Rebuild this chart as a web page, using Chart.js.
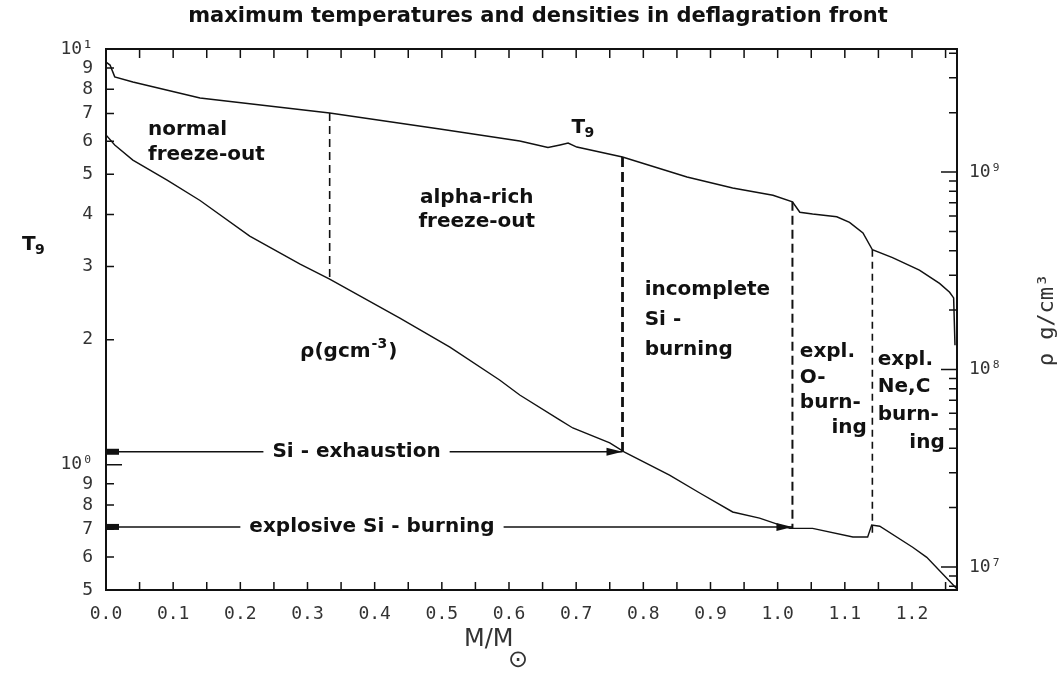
<!DOCTYPE html>
<html>
<head>
<meta charset="utf-8">
<script src="https://cdn.jsdelivr.net/npm/chart.js@4.4.0/dist/chart.umd.min.js"></script>
<style>
  html, body { margin: 0; padding: 0; background: #fff; }
</style>
</head>
<body>
<canvas id="chart" width="1064" height="677"></canvas>
<script>
// T9 along the deflagration front (left axis)
const massT = [0.0, 0.006, 0.013, 0.040, 0.140, 0.333, 0.497, 0.616, 0.658, 0.676, 0.688, 0.701, 0.769,
  0.865, 0.933, 0.993, 1.022, 1.033, 1.052, 1.088, 1.107, 1.127, 1.141, 1.171, 1.211, 1.241, 1.256, 1.262, 1.264];
const tempT9 = [9.30, 9.15, 8.57, 8.33, 7.62, 7.02, 6.42, 6.01, 5.80, 5.88, 5.94, 5.81, 5.50,
  4.92, 4.63, 4.45, 4.29, 4.05, 4.01, 3.95, 3.83, 3.61, 3.29, 3.15, 2.94, 2.73, 2.60, 2.52, 1.94];

// density in g/cm^3 (right axis)
const massRho = [0.0, 0.013, 0.040, 0.091, 0.140, 0.214, 0.289, 0.333, 0.4375, 0.512, 0.586, 0.616, 0.676,
  0.695, 0.750, 0.772, 0.839, 0.884, 0.933, 0.973, 1.018, 1.052, 1.112, 1.134, 1.140, 1.152, 1.201, 1.222, 1.266];
const density = [1.54e9, 1.37e9, 1.15e9, 9.1e8, 7.18e8, 4.74e8, 3.42e8, 2.87e8, 1.82e8, 1.30e8, 8.85e7, 7.43e7, 5.55e7,
  5.06e7, 4.25e7, 3.82e7, 2.92e7, 2.37e7, 1.90e7, 1.77e7, 1.57e7, 1.57e7, 1.42e7, 1.42e7, 1.63e7, 1.61e7, 1.26e7, 1.12e7, 7.8e6];

// dashed region boundaries (M, T9 at top, T9 at bottom)
const boundMass = [0.333, 0.769, 1.022, 1.141];
const boundTop = [7.02, 5.50, 4.29, 3.29];
const boundBottom = [2.80, 1.075, 0.705, 0.670];

// horizontal arrows
const arrowLevel = [1.075, 0.709];
const arrowEnd = [0.769, 1.022];
const arrowText = ['Si - exhaustion', 'explosive Si - burning'];
const arrowTextAt = [0.373, 0.396];

// tick values / labels
const xTickValues = [0, 0.05, 0.1, 0.15, 0.2, 0.25, 0.3, 0.35, 0.4, 0.45, 0.5, 0.55, 0.6, 0.65, 0.7, 0.75,
  0.8, 0.85, 0.9, 0.95, 1.0, 1.05, 1.1, 1.15, 1.2, 1.25];
const xTickLabels = ['0.0', '', '0.1', '', '0.2', '', '0.3', '', '0.4', '', '0.5', '', '0.6', '', '0.7', '',
  '0.8', '', '0.9', '', '1.0', '', '1.1', '', '1.2', ''];
const yTickValues = [0.5, 0.6, 0.7, 0.8, 0.9, 1, 2, 3, 4, 5, 6, 7, 8, 9, 10];
const yTickLabels = ['5', '6', '7', '8', '9', '10\u2070', '2', '3', '4', '5', '6', '7', '8', '9', '10\u00b9'];
const rhoTickValues = [8e6, 9e6, 1e7, 2e7, 3e7, 4e7, 5e7, 6e7, 7e7, 8e7, 9e7, 1e8, 2e8, 3e8, 4e8, 5e8, 6e8,
  7e8, 8e8, 9e8, 1e9, 2e9, 3e9, 4e9];
const rhoTickLabels = {1e7: '10\u2077', 1e8: '10\u2078', 1e9: '10\u2079'};

// text written inside the plot: [text, M, T9, align]
const notes = [
  ['normal', 0.0625, 6.39, 'left'],
  ['freeze-out', 0.0625, 5.56, 'left'],
  ['alpha-rich', 0.552, 4.38, 'center'],
  ['freeze-out', 0.552, 3.84, 'center'],
  ['incomplete', 0.802, 2.63, 'left'],
  ['Si -', 0.802, 2.23, 'left'],
  ['burning', 0.802, 1.89, 'left'],
  ['expl.', 1.033, 1.87, 'left'],
  ['O-', 1.033, 1.62, 'left'],
  ['burn-', 1.033, 1.41, 'left'],
  ['ing', 1.080, 1.23, 'left'],
  ['expl.', 1.149, 1.79, 'left'],
  ['Ne,C', 1.149, 1.54, 'left'],
  ['burn-', 1.149, 1.32, 'left'],
  ['ing', 1.196, 1.13, 'left']
];

const NOTE_FONT = 'bold 20px "DejaVu Sans"';
const SUB_FONT = 'bold 14px "DejaVu Sans"';
const tickFont = {family: 'DejaVu Sans Mono', size: 18};

const toXY = (xs, ys) => xs.map((x, i) => ({x: x, y: ys[i]}));

const datasets = [
  {data: toXY(massT, tempT9), yAxisID: 'y', borderColor: '#111', borderWidth: 1.5, pointRadius: 0, tension: 0},
  {data: toXY(massRho, density), yAxisID: 'y2', borderColor: '#111', borderWidth: 1.4, pointRadius: 0, tension: 0}
];
const boundStyle = [[1.6, [8, 5]], [2.8, [10, 5]], [2.0, [9, 5]], [1.6, [7, 5]]];
boundMass.forEach((m, i) => {
  datasets.push({
    data: [{x: m, y: boundTop[i]}, {x: m, y: boundBottom[i]}],
    yAxisID: 'y', borderColor: '#111', borderWidth: boundStyle[i][0], borderDash: boundStyle[i][1], pointRadius: 0
  });
});
arrowLevel.forEach((lv, i) => {
  datasets.push({
    data: [{x: 0, y: lv}, {x: arrowEnd[i], y: lv}],
    yAxisID: 'y', borderColor: '#111', borderWidth: 1.5, pointRadius: 0
  });
});

const decor = {
  id: 'decor',
  afterDatasetsDraw(chart) {
    const {ctx, chartArea: a, scales} = chart;
    const sx = scales.x, sy = scales.y, sr = scales.y2;
    ctx.save();
    ctx.strokeStyle = '#111';
    ctx.fillStyle = '#111';
    ctx.lineWidth = 1.5;
    // inward ticks
    ctx.beginPath();
    sx.ticks.forEach(t => {
      const px = sx.getPixelForValue(t.value);
      ctx.moveTo(px, a.bottom); ctx.lineTo(px, a.bottom - 8);
      ctx.moveTo(px, a.top); ctx.lineTo(px, a.top + 9);
    });
    sy.ticks.forEach(t => {
      const py = sy.getPixelForValue(t.value);
      const len = (t.value === 1 || t.value === 10) ? 16 : 8;
      ctx.moveTo(a.left, py); ctx.lineTo(a.left + len, py);
    });
    sr.ticks.forEach(t => {
      const py = sr.getPixelForValue(t.value);
      const len = rhoTickLabels[t.value] ? 16 : 8;
      ctx.moveTo(a.right, py); ctx.lineTo(a.right - len, py);
    });
    ctx.stroke();
    // frame
    ctx.lineWidth = 2;
    ctx.strokeRect(a.left, a.top, a.right - a.left, a.bottom - a.top);

    // arrow heads and texts
    ctx.font = NOTE_FONT;
    ctx.textBaseline = 'middle';
    arrowLevel.forEach((lv, i) => {
      const py = sy.getPixelForValue(lv);
      const x0 = sx.getPixelForValue(0);
      const x1 = sx.getPixelForValue(arrowEnd[i]);
      ctx.fillRect(x0, py - 3, 13, 6);
      ctx.beginPath();
      ctx.moveTo(x1, py); ctx.lineTo(x1 - 16, py - 4); ctx.lineTo(x1 - 16, py + 4); ctx.closePath();
      ctx.fill();
      const tx = sx.getPixelForValue(arrowTextAt[i]);
      const w = ctx.measureText(arrowText[i]).width;
      ctx.fillStyle = '#fff';
      ctx.fillRect(tx - w / 2 - 9, py - 12, w + 18, 24);
      ctx.fillStyle = '#111';
      ctx.textAlign = 'center';
      ctx.fillText(arrowText[i], tx, py);
    });

    // notes
    notes.forEach(n => {
      ctx.textAlign = n[3];
      ctx.fillText(n[0], sx.getPixelForValue(n[1]), sy.getPixelForValue(n[2]));
    });
    // T9 label on curve
    ctx.textAlign = 'left';
    let px = sx.getPixelForValue(0.693), py = sy.getPixelForValue(6.46);
    ctx.fillText('T', px, py);
    ctx.font = SUB_FONT;
    ctx.fillText('9', px + 13, py + 5);
    // rho label
    ctx.font = NOTE_FONT;
    px = sx.getPixelForValue(0.289); py = sy.getPixelForValue(1.87);
    ctx.fillText('\u03c1(gcm', px, py);
    const w = ctx.measureText('\u03c1(gcm').width;
    ctx.font = SUB_FONT;
    ctx.fillText('-3', px + w + 1, py - 7);
    const w2 = ctx.measureText('-3').width;
    ctx.font = NOTE_FONT;
    ctx.fillText(')', px + w + w2 + 2, py);

    // title
    ctx.textAlign = 'center';
    ctx.textBaseline = 'alphabetic';
    ctx.font = 'bold 21px "DejaVu Sans"';
    ctx.fillText('maximum temperatures and densities in deflagration front', 538, 22);

    // left axis title
    ctx.textBaseline = 'middle';
    ctx.textAlign = 'left';
    ctx.font = NOTE_FONT;
    ctx.fillText('T', 22, 245);
    ctx.font = SUB_FONT;
    ctx.fillText('9', 35, 250);

    // x axis title
    ctx.fillStyle = '#333';
    ctx.font = '24px "DejaVu Sans"';
    ctx.fillText('M/M', 464, 640);
    ctx.font = '24px "DejaVu Sans"';
    ctx.fillText('\u2299', 508, 661);

    // right axis title
    ctx.translate(1047, 320);
    ctx.rotate(-Math.PI / 2);
    ctx.textAlign = 'center';
    ctx.font = '22px "DejaVu Sans Mono"';
    ctx.fillText('\u03c1 g/cm\u00b3', 0, 0);
    ctx.restore();
  }
};

new Chart(document.getElementById('chart'), {
  type: 'line',
  data: {datasets: datasets},
  plugins: [decor],
  options: {
    responsive: false,
    animation: false,
    layout: {padding: {top: 49, left: 0, right: 0, bottom: 0}},
    plugins: {legend: {display: false}, tooltip: {enabled: false}},
    scales: {
      x: {
        type: 'linear', min: 0, max: 1.267,
        grid: {display: false, drawTicks: false}, border: {display: false},
        afterBuildTicks: s => { s.ticks = xTickValues.map(v => ({value: v})); },
        afterFit: s => { s.height = 87; },
        ticks: {
          autoSkip: false, maxRotation: 0, padding: 14, color: '#333', font: tickFont,
          callback: (v, i) => xTickLabels[i]
        }
      },
      y: {
        type: 'logarithmic', position: 'left', min: 0.5, max: 10,
        grid: {display: false, drawTicks: false}, border: {display: false},
        afterBuildTicks: s => { s.ticks = yTickValues.map(v => ({value: v})); },
        afterFit: s => { s.width = 106; },
        ticks: {
          autoSkip: false, padding: 13, color: '#333', font: tickFont,
          callback: (v, i) => yTickLabels[i]
        }
      },
      y2: {
        type: 'logarithmic', position: 'right', min: 7.65e6, max: 4.2e9,
        grid: {display: false, drawTicks: false}, border: {display: false},
        afterBuildTicks: s => { s.ticks = rhoTickValues.map(v => ({value: v})); },
        afterFit: s => { s.width = 107; },
        ticks: {
          autoSkip: false, padding: 12, color: '#333', font: tickFont,
          callback: v => rhoTickLabels[v] || ''
        }
      }
    }
  }
});
</script>
</body>
</html>
